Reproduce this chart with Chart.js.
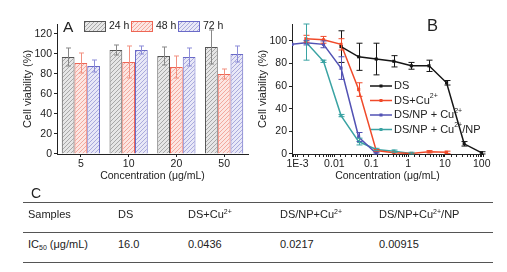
<!DOCTYPE html>
<html>
<head>
<meta charset="utf-8">
<script src="https://cdn.jsdelivr.net/npm/chart.js@4.4.1/dist/chart.umd.min.js"></script>
<style>
  html, body { margin: 0; padding: 0; background: #fff; }
  body { width: 507px; height: 272px; position: relative; overflow: hidden;
         font-family: "Liberation Sans", Arial, sans-serif; color: #222; }
  canvas { position: absolute; top: 0; }
  #chartA { left: 0; }
  #chartB { left: 250px; }
  .letter { position: absolute; line-height: 1; }
  .rule { position: absolute; left: 23px; width: 470px; height: 1px; background: #555; }
  .cell { position: absolute; font-size: 11px; line-height: 11px; white-space: nowrap; }
  .cell sup { font-size: 7px; vertical-align: 4px; line-height: 0; }
  .cell sub { font-size: 7px; vertical-align: -2px; line-height: 0; }
</style>
</head>
<body>
<canvas id="chartA" width="250" height="190"></canvas>
<canvas id="chartB" width="257" height="190"></canvas>
<div class="letter" style="left:63px; top:19px; font-size:15.5px">A</div>
<div class="letter" style="left:427px; top:17px; font-size:16.5px">B</div>
<div class="letter" style="left:31px; top:186px; font-size:14px">C</div>

<div class="rule" style="top:202px"></div>
<div class="rule" style="top:232px"></div>
<div class="rule" style="top:262px"></div>

<div class="cell" style="left:28px; top:209px">Samples</div>
<div class="cell" style="left:118px; top:209px">DS</div>
<div class="cell" style="left:188px; top:209px">DS+Cu<sup>2+</sup></div>
<div class="cell" style="left:280px; top:209px">DS/NP+Cu<sup>2+</sup></div>
<div class="cell" style="left:379px; top:209px">DS/NP+Cu<sup>2+</sup>/NP</div>

<div class="cell" style="left:28px; top:239px">IC<sub>50</sub> (μg/mL)</div>
<div class="cell" style="left:118px; top:239px">16.0</div>
<div class="cell" style="left:188px; top:239px">0.0436</div>
<div class="cell" style="left:280px; top:239px">0.0217</div>
<div class="cell" style="left:379px; top:239px">0.00915</div>

<script>
// A: 細胞存活率 (bar)
const concA = ['5', '10', '20', '50'];
const hoursA = ['24 h', '48 h', '72 h'];
const via24 = [97, 104, 98, 107];
const err24 = [9, 5, 9, 17];
const via48 = [91, 92, 87, 80];
const err48 = [10, 16, 11, 5];
const via72 = [88, 104, 97, 100];
const err72 = [6, 4, 9, 8];
const yTicksA = [0, 20, 40, 60, 80, 100, 120];

// B: 濃度曲線 (log x)
const concB = [0.00071, 0.00169, 0.00508, 0.0152, 0.0457, 0.137, 0.412, 1.23, 3.70, 11.1, 33.3, 100];
const viaDS     = [null, null, null, 95, 86, 84, 82, 78, 78, 63, 9, 1];
const errDS     = [0, 0, 0, 14, 12, 14, 5, 3, 5, 2, 2, 1];
const viaDSCu   = [null, 102, 101, 97, 57, 3, 1, 0.5, 2, 1.5, null, null];
const errDSCu   = [0, 3, 3, 5, 6, 1, 0, 0, 1, 1, 0, 0];
const viaNPCu   = [97, 98.5, 97, 76, 15, 0.5, null, null, null, null, null, null];
const errNPCu   = [0, 2, 3, 10, 4, 1, 0, 0, 0, 0, 0, 0];
const viaNPCuNP = [null, 99, 82, 34, 11, 4, 2.5, 0.5, null, null, null, null];
const errNPCuNP = [0, 16, 1, 1, 3, 1, 1, 1, 0, 0, 0, 0];
const namesB = ['DS', 'DS+Cu²⁺', 'DS/NP + Cu²⁺', 'DS/NP + Cu²⁺/NP'];
const legendPartsB = [['DS'], ['DS+Cu', '2+'], ['DS/NP + Cu', '2+'], ['DS/NP + Cu', '2+', '/NP']];
const tickValsB = [0.001, 0.01, 0.1, 1, 10, 100];
const tickLabelsB = ['1E-3', '0.01', '0.1', '1', '10', '100'];
const yTicksB = [0, 20, 40, 60, 80, 100];

const FONT = "'Liberation Sans', Arial, sans-serif";
Chart.defaults.font.family = FONT;
Chart.defaults.color = '#222';

// 斜線填滿
function hatch(bg, line) {
    const c = document.createElement('canvas');
    c.width = 4; c.height = 4;
    const g = c.getContext('2d');
    g.fillStyle = bg;
    g.fillRect(0, 0, 4, 4);
    g.strokeStyle = line;
    g.lineWidth = 1;
    g.beginPath();
    g.moveTo(0, 4); g.lineTo(4, 0);
    g.moveTo(-1, 1); g.lineTo(1, -1);
    g.moveTo(3, 5); g.lineTo(5, 3);
    g.stroke();
    return g.createPattern(c, 'repeat');
}

const borderA = ['#555555', '#ee6655', '#6a6ac8'];
const fillA = [hatch('#e6e6e6', '#a8a8a8'), hatch('#fce6e2', '#f2a89e'), hatch('#e8e8f7', '#aaaadd')];
const errColA = ['#888888', '#f29080', '#8c8cd8'];
const colB = ['#151515', '#f04a2a', '#5252b4', '#3aa3a3'];

// 誤差線
const errorBars = {
    id: 'errorBars',
    afterDatasetsDraw(chart, args, opts) {
        const ctx = chart.ctx;
        const ys = chart.scales.y;
        ctx.save();
        ctx.lineWidth = 1;
        opts.errors.forEach((errs, i) => {
            const meta = chart.getDatasetMeta(i);
            const ds = chart.data.datasets[i];
            ctx.strokeStyle = opts.colors[i];
            meta.data.forEach((el, j) => {
                const d = ds.data[j];
                const v = (d !== null && typeof d === 'object') ? d.y : d;
                const e = errs[j];
                if (v === null || v === undefined || !e) return;
                const x = Math.round(el.x) + 0.5;
                const y1 = ys.getPixelForValue(v + e);
                const y2 = ys.getPixelForValue(Math.max(v - e, 0));
                ctx.beginPath();
                ctx.moveTo(x, y1); ctx.lineTo(x, y2);
                ctx.moveTo(x - opts.cap, y1); ctx.lineTo(x + opts.cap, y1);
                ctx.moveTo(x - opts.cap, y2); ctx.lineTo(x + opts.cap, y2);
                ctx.stroke();
            });
        });
        ctx.restore();
    }
};

const legendA = {
    id: 'legendA',
    afterDraw(chart) {
        const ctx = chart.ctx;
        const xs = [84, 131, 178];
        ctx.save();
        ctx.font = '10.5px ' + FONT;
        ctx.textBaseline = 'middle';
        hoursA.forEach((h, i) => {
            ctx.fillStyle = fillA[i];
            ctx.fillRect(xs[i], 21, 22, 11);
            ctx.strokeStyle = borderA[i];
            ctx.lineWidth = 1;
            ctx.strokeRect(xs[i] + 0.5, 21.5, 21, 10);
            ctx.fillStyle = '#222';
            ctx.fillText(h, xs[i] + 25, 26.5);
        });
        ctx.restore();
    }
};

const legendB = {
    id: 'legendB',
    beforeDatasetsDraw(chart) {
        const ctx = chart.ctx;
        const x0 = 120, rows = [86, 100.5, 115, 129.5];
        ctx.save();
        ctx.textBaseline = 'middle';
        legendPartsB.forEach((parts, i) => {
            const y = rows[i];
            ctx.strokeStyle = colB[i];
            ctx.lineWidth = 1.5;
            ctx.beginPath();
            ctx.moveTo(x0, y); ctx.lineTo(x0 + 22, y);
            ctx.stroke();
            ctx.fillStyle = colB[i];
            ctx.fillRect(x0 + 9.5, y - 1.5, 3, 3);
            ctx.fillStyle = '#222';
            let x = x0 + 24;
            parts.forEach((p, k) => {
                const sup = k % 2 === 1;
                ctx.font = (sup ? '7px ' : '11px ') + FONT;
                ctx.fillText(p, x, sup ? y - 4 : y);
                x += ctx.measureText(p).width;
            });
        });
        ctx.restore();
    }
};

// A chart
new Chart(document.getElementById('chartA'), {
    type: 'bar',
    data: {
        labels: concA,
        datasets: [via24, via48, via72].map((d, i) => ({
            label: hoursA[i],
            data: d,
            backgroundColor: fillA[i],
            borderColor: borderA[i],
            borderWidth: 1,
            categoryPercentage: 0.8,
            barPercentage: 1.0
        }))
    },
    options: {
        responsive: false,
        animation: false,
        layout: { padding: { top: 24, right: 2, left: 0, bottom: 0 } },
        plugins: {
            legend: { display: false },
            tooltip: { enabled: false },
            errorBars: { errors: [err24, err48, err72], colors: errColA, cap: 2.5 }
        },
        scales: {
            x: {
                grid: { drawOnChartArea: false, offset: false, tickLength: 3, color: '#222' },
                border: { color: '#222', width: 1 },
                ticks: { font: { size: 10.5 }, padding: 1, maxRotation: 0 },
                title: { display: true, text: 'Concentration (μg/mL)', font: { size: 10.5 }, padding: { top: 0, bottom: 8 } },
                afterFit(s) { s.height = 36; }
            },
            y: {
                min: -0.01, max: 130,
                grid: { drawOnChartArea: false, tickLength: 3, color: '#222' },
                border: { color: '#222', width: 1 },
                ticks: { autoSkip: false, font: { size: 10.5 }, padding: 2, callback: v => String(v) },
                afterBuildTicks(s) { s.ticks = yTicksA.map(v => ({ value: v })); },
                title: { display: true, text: 'Cell viability (%)', font: { size: 11 }, padding: { top: 21, bottom: 0 } },
                afterFit(s) { s.width = 57; }
            }
        }
    },
    plugins: [errorBars, legendA]
});

// B chart
const seriesB = [viaDS, viaDSCu, viaNPCu, viaNPCuNP];
new Chart(document.getElementById('chartB'), {
    type: 'line',
    data: {
        datasets: seriesB.map((vals, i) => ({
            label: namesB[i],
            data: concB.map((c, j) => ({ x: c, y: vals[j] })),
            borderColor: colB[i],
            backgroundColor: colB[i],
            borderWidth: 1.5,
            pointStyle: 'rect',
            pointRadius: 2.2,
            pointBorderWidth: 0,
            tension: 0,
            spanGaps: false
        }))
    },
    options: {
        responsive: false,
        animation: false,
        layout: { padding: { top: 24, right: 24, left: 0, bottom: 0 } },
        plugins: {
            legend: { display: false },
            tooltip: { enabled: false },
            errorBars: { errors: [errDS, errDSCu, errNPCu, errNPCuNP], colors: colB, cap: 3 }
        },
        scales: {
            x: {
                type: 'logarithmic',
                min: 0.00071, max: 108,
                grid: { drawOnChartArea: false, tickLength: 3, color: '#222' },
                border: { color: '#222', width: 1 },
                ticks: {
                    autoSkip: false, maxRotation: 0, padding: 1, font: { size: 10.5 },
                    callback(value) {
                        const k = tickValsB.findIndex(t => Math.abs(Math.log10(t) - Math.log10(value)) < 1e-6);
                        return k >= 0 ? tickLabelsB[k] : '';
                    }
                },
                title: { display: true, text: 'Concentration (μg/mL)', font: { size: 10.5 }, padding: { top: 0, bottom: 8 } },
                afterFit(s) { s.height = 36; }
            },
            y: {
                min: -0.01, max: 115,
                grid: { drawOnChartArea: false, tickLength: 3, color: '#222' },
                border: { color: '#222', width: 1 },
                ticks: { autoSkip: false, font: { size: 10.5 }, padding: 2, callback: v => String(v) },
                afterBuildTicks(s) { s.ticks = yTicksB.map(v => ({ value: v })); },
                title: { display: true, text: 'Cell viability (%)', font: { size: 11 }, padding: { top: 6, bottom: 0 } },
                afterFit(s) { s.width = 42; }
            }
        }
    },
    plugins: [errorBars, legendB]
});
</script>
</body>
</html>
